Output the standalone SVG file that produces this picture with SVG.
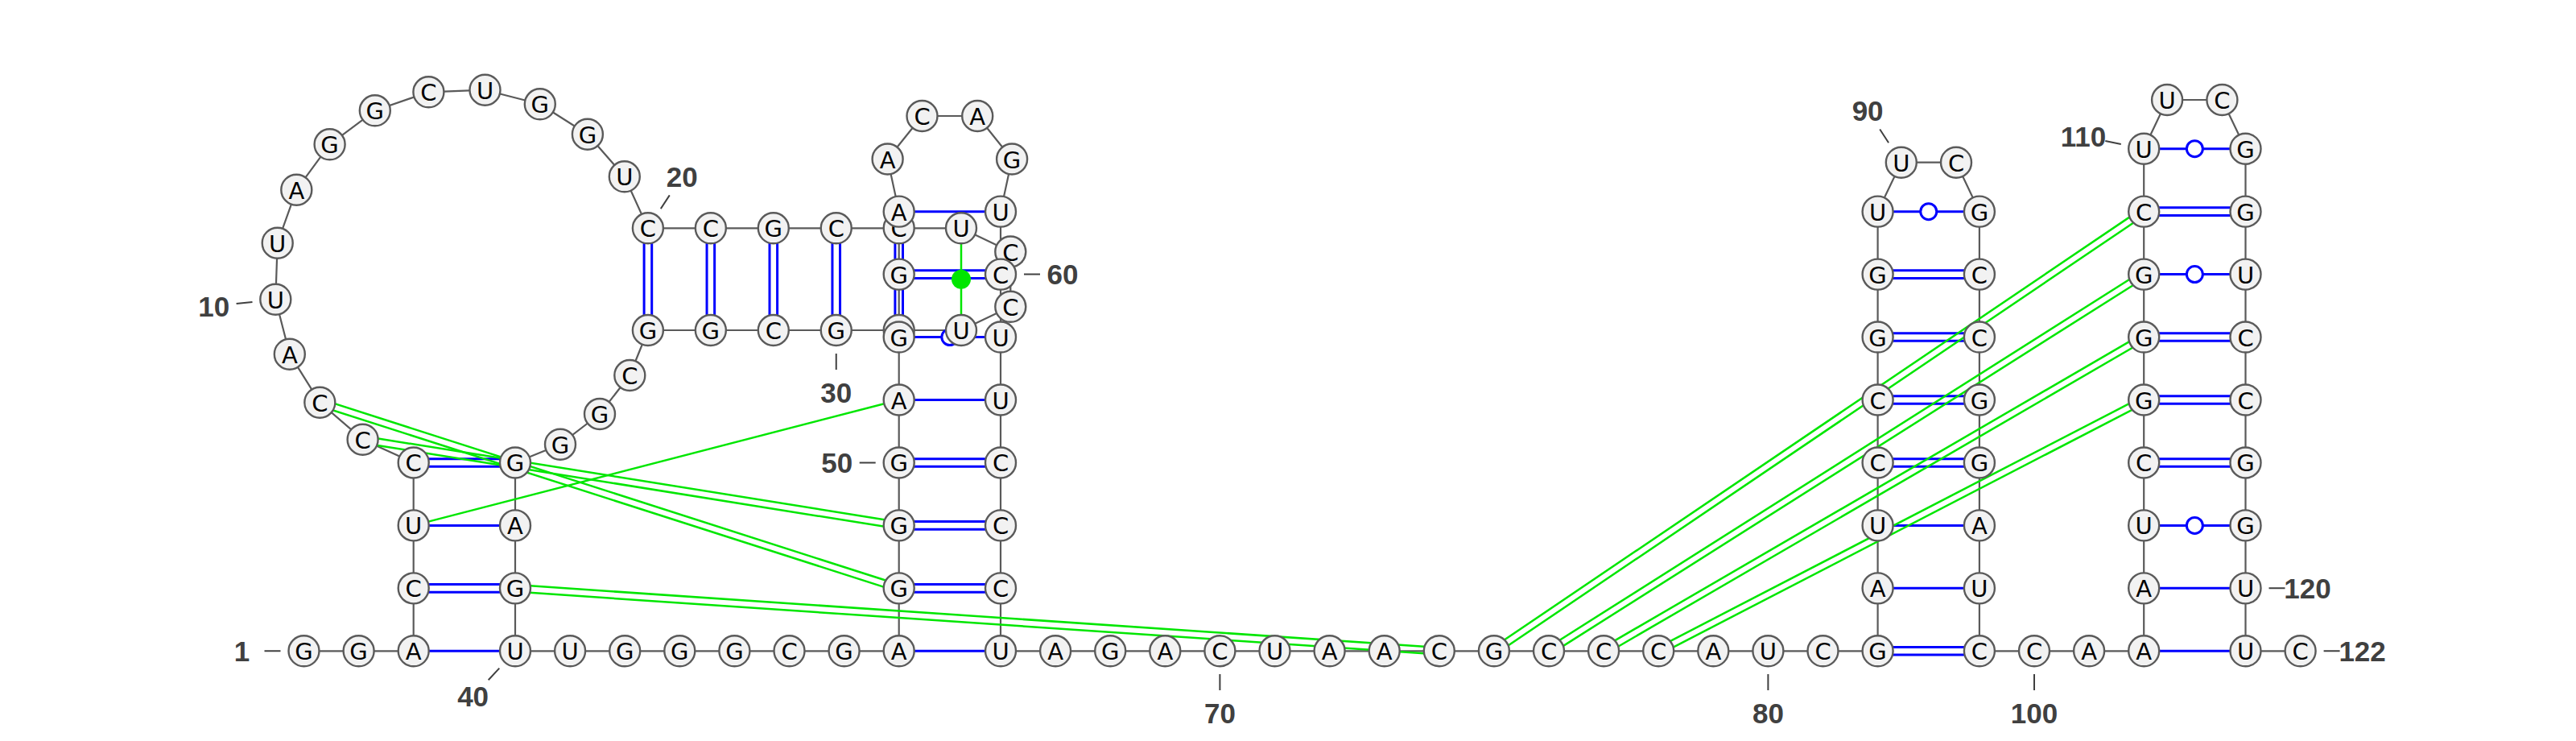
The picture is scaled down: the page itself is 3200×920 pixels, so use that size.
<svg xmlns="http://www.w3.org/2000/svg" width="3200" height="920" viewBox="0 0 3200 920">
<style>
.bb{fill:none;stroke:#5a5a5a;stroke-width:2.2;stroke-linejoin:round}
.bp{stroke:#0000ff;stroke-width:3;fill:none}
.wb{fill:#ffffff;stroke:#0000ff;stroke-width:3}
.gp{stroke:#00e600;stroke-width:2.5;fill:none}
.gd{fill:#00e600}
.nd circle{fill:#f2f2f2;stroke:#5a5a5a;stroke-width:2.4}
.nd text{font-family:"DejaVu Sans",sans-serif;font-size:29px;text-anchor:middle;fill:#000}
.lb{font-family:"Liberation Sans",Arial,sans-serif;font-weight:bold;font-size:35px;fill:#404040;text-anchor:middle}
.tk{stroke:#404040;stroke-width:2}
</style>
<rect width="3200" height="920" fill="#ffffff"/>
<g id="connectors">
<polyline class="bb" points="377.5,808.3 445.6,808.3 513.7,808.3 513.7,730.35 513.7,652.4 513.7,574.45 450.6,545.7 397.3,499.7 359.8,439.7 342.3,371.7 344.7,301.7 368.3,235.7 409.6,179.3 465.8,137.3 532.4,114.3 602.5,111.7 670.8,129.3 729.9,166.7 775.8,219.3 804.9,283.3 882.85,283.3 960.8,283.3 1038.75,283.3 1116.7,283.3 1194,283.3 1255.3,312.5 1255.3,380.8 1194,410 1116.7,410 1038.75,410 960.8,410 882.85,410 804.9,410 782.3,466 745,514 696,551.7 640,574.45 640,652.4 640,730.35 640,808.3 708.1,808.3 776.2,808.3 844.3,808.3 912.4,808.3 980.5,808.3 1048.6,808.3 1116.7,808.3 1116.7,730.35 1116.7,652.4 1116.7,574.45 1116.7,496.5 1116.7,418.55 1116.7,340.6 1116.7,262.65 1102.6,197.5 1145.5,144 1214.2,144 1257.1,197.5 1243,262.65 1243,340.6 1243,418.55 1243,496.5 1243,574.45 1243,652.4 1243,730.35 1243,808.3 1311.1,808.3 1379.2,808.3 1447.3,808.3 1515.4,808.3 1583.5,808.3 1651.6,808.3 1719.7,808.3 1787.8,808.3 1855.9,808.3 1924,808.3 1992.1,808.3 2060.2,808.3 2128.3,808.3 2196.4,808.3 2264.5,808.3 2332.6,808.3 2332.6,730.35 2332.6,652.4 2332.6,574.45 2332.6,496.5 2332.6,418.55 2332.6,340.6 2332.6,262.65 2361.8,201.7 2430,201.7 2458.9,262.65 2458.9,340.6 2458.9,418.55 2458.9,496.5 2458.9,574.45 2458.9,652.4 2458.9,730.35 2458.9,808.3 2527,808.3 2595.1,808.3 2663.2,808.3 2663.2,730.35 2663.2,652.4 2663.2,574.45 2663.2,496.5 2663.2,418.55 2663.2,340.6 2663.2,262.65 2663.2,184.7 2692.1,124 2760.4,124 2789.5,184.7 2789.5,262.65 2789.5,340.6 2789.5,418.55 2789.5,496.5 2789.5,574.45 2789.5,652.4 2789.5,730.35 2789.5,808.3 2857.6,808.3"/>
<g id="pairs">
<!-- left stem -->
<path class="bp" d="M513.7,808.3H640 M513.7,725.55H640 M513.7,735.15H640 M513.7,652.4H640 M513.7,569.65H640 M513.7,579.25H640"/>
<!-- stem 20-33 / 24-29 -->
<path class="bp" d="M800.1,283.3V410 M809.7,283.3V410 M878.05,283.3V410 M887.65,283.3V410 M956,283.3V410 M965.6,283.3V410 M1033.95,283.3V410 M1043.55,283.3V410 M1111.9,283.3V410 M1121.5,283.3V410"/>
<!-- hairpin 47-66 -->
<path class="bp" d="M1116.7,808.3H1243 M1116.7,725.55H1243 M1116.7,735.15H1243 M1116.7,647.6H1243 M1116.7,657.2H1243 M1116.7,569.65H1243 M1116.7,579.25H1243 M1116.7,496.5H1243 M1116.7,418.55H1243 M1116.7,335.8H1243 M1116.7,345.4H1243 M1116.7,262.65H1243"/>
<circle class="wb" cx="1179.85" cy="418.55" r="10"/>
<!-- hairpin 82-99 -->
<path class="bp" d="M2332.6,803.5H2458.9 M2332.6,813.1H2458.9 M2332.6,730.35H2458.9 M2332.6,652.4H2458.9 M2332.6,569.65H2458.9 M2332.6,579.25H2458.9 M2332.6,491.7H2458.9 M2332.6,501.3H2458.9 M2332.6,413.75H2458.9 M2332.6,423.35H2458.9 M2332.6,335.8H2458.9 M2332.6,345.4H2458.9 M2332.6,262.65H2458.9"/>
<circle class="wb" cx="2395.75" cy="262.65" r="10"/>
<!-- hairpin 102-121 -->
<path class="bp" d="M2663.2,808.3H2789.5 M2663.2,730.35H2789.5 M2663.2,652.4H2789.5 M2663.2,569.65H2789.5 M2663.2,579.25H2789.5 M2663.2,491.7H2789.5 M2663.2,501.3H2789.5 M2663.2,413.75H2789.5 M2663.2,423.35H2789.5 M2663.2,340.6H2789.5 M2663.2,257.85H2789.5 M2663.2,267.45H2789.5 M2663.2,184.7H2789.5"/>
<circle class="wb" cx="2726.35" cy="652.4" r="10"/>
<circle class="wb" cx="2726.35" cy="340.6" r="10"/>
<circle class="wb" cx="2726.35" cy="184.7" r="10"/>
</g>
<g id="tertiary">
<path class="gp" d="M449.93,549.9L1116.03,656.6 M451.27,541.5L1117.37,648.2"/>
<path class="gp" d="M396,503.75L1115.4,734.4 M398.6,495.65L1118,726.3"/>
<path class="gp" d="M513.7,652.4L1116.7,496.5"/>
<path class="gp" d="M639.71,734.59L1787.51,812.54 M640.29,726.11L1788.09,804.06"/>
<path class="gp" d="M1858.28,811.82L2665.58,266.17 M1853.52,804.78L2660.82,259.13"/>
<path class="gp" d="M1926.27,811.89L2665.47,344.19 M1921.73,804.71L2660.93,337.01"/>
<path class="gp" d="M1994.23,811.98L2665.33,422.23 M1989.97,804.63L2661.07,414.88"/>
<path class="gp" d="M2062.15,812.08L2665.15,500.28 M2058.25,804.53L2661.25,492.73"/>
<path class="gp" d="M1194,283.3V410"/>
<circle class="gd" cx="1194" cy="346.65" r="12"/>
</g>
<g id="ticks">
<path class="tk" d="M348.5,808.3H328.5 M313.5,374.9L293.6,377.1 M820.8,259.1L831.8,242.4 M1038.75,439V459 M620.3,829.6L606.7,844.2 M1087.7,574.45H1067.7 M1272,340.6H1292 M1515.4,837V857 M2196.4,837V857 M2346.1,177.3L2335.2,160.5 M2527,837V857 M2634.8,178.9L2615.3,174.9 M2818.5,730.35H2838.5 M2886.6,808.3H2906.6"/>
</g>
</g>
<g id="nodes">
<g id="n1" class="nd"><circle cx="377.5" cy="808.3" r="19"/><text x="377.5" y="819.3">G</text></g>
<g id="n2" class="nd"><circle cx="445.6" cy="808.3" r="19"/><text x="445.6" y="819.3">G</text></g>
<g id="n3" class="nd"><circle cx="513.7" cy="808.3" r="19"/><text x="513.7" y="819.3">A</text></g>
<g id="n4" class="nd"><circle cx="513.7" cy="730.35" r="19"/><text x="513.7" y="741.35">C</text></g>
<g id="n5" class="nd"><circle cx="513.7" cy="652.4" r="19"/><text x="513.7" y="663.4">U</text></g>
<g id="n6" class="nd"><circle cx="513.7" cy="574.45" r="19"/><text x="513.7" y="585.45">C</text></g>
<g id="n7" class="nd"><circle cx="450.6" cy="545.7" r="19"/><text x="450.6" y="556.7">C</text></g>
<g id="n8" class="nd"><circle cx="397.3" cy="499.7" r="19"/><text x="397.3" y="510.7">C</text></g>
<g id="n9" class="nd"><circle cx="359.8" cy="439.7" r="19"/><text x="359.8" y="450.7">A</text></g>
<g id="n10" class="nd"><circle cx="342.3" cy="371.7" r="19"/><text x="342.3" y="382.7">U</text></g>
<g id="n11" class="nd"><circle cx="344.7" cy="301.7" r="19"/><text x="344.7" y="312.7">U</text></g>
<g id="n12" class="nd"><circle cx="368.3" cy="235.7" r="19"/><text x="368.3" y="246.7">A</text></g>
<g id="n13" class="nd"><circle cx="409.6" cy="179.3" r="19"/><text x="409.6" y="190.3">G</text></g>
<g id="n14" class="nd"><circle cx="465.8" cy="137.3" r="19"/><text x="465.8" y="148.3">G</text></g>
<g id="n15" class="nd"><circle cx="532.4" cy="114.3" r="19"/><text x="532.4" y="125.3">C</text></g>
<g id="n16" class="nd"><circle cx="602.5" cy="111.7" r="19"/><text x="602.5" y="122.7">U</text></g>
<g id="n17" class="nd"><circle cx="670.8" cy="129.3" r="19"/><text x="670.8" y="140.3">G</text></g>
<g id="n18" class="nd"><circle cx="729.9" cy="166.7" r="19"/><text x="729.9" y="177.7">G</text></g>
<g id="n19" class="nd"><circle cx="775.8" cy="219.3" r="19"/><text x="775.8" y="230.3">U</text></g>
<g id="n20" class="nd"><circle cx="804.9" cy="283.3" r="19"/><text x="804.9" y="294.3">C</text></g>
<g id="n21" class="nd"><circle cx="882.85" cy="283.3" r="19"/><text x="882.85" y="294.3">C</text></g>
<g id="n22" class="nd"><circle cx="960.8" cy="283.3" r="19"/><text x="960.8" y="294.3">G</text></g>
<g id="n23" class="nd"><circle cx="1038.75" cy="283.3" r="19"/><text x="1038.75" y="294.3">C</text></g>
<g id="n24" class="nd"><circle cx="1116.7" cy="283.3" r="19"/><text x="1116.7" y="294.3">C</text></g>
<g id="n25" class="nd"><circle cx="1194" cy="283.3" r="19"/><text x="1194" y="294.3">U</text></g>
<g id="n26" class="nd"><circle cx="1255.3" cy="312.5" r="19"/><text x="1255.3" y="323.5">C</text></g>
<g id="n27" class="nd"><circle cx="1255.3" cy="380.8" r="19"/><text x="1255.3" y="391.8">C</text></g>
<g id="n28" class="nd"><circle cx="1194" cy="410" r="19"/><text x="1194" y="421">U</text></g>
<g id="n29" class="nd"><circle cx="1116.7" cy="410" r="19"/><text x="1116.7" y="421">G</text></g>
<g id="n30" class="nd"><circle cx="1038.75" cy="410" r="19"/><text x="1038.75" y="421">G</text></g>
<g id="n31" class="nd"><circle cx="960.8" cy="410" r="19"/><text x="960.8" y="421">C</text></g>
<g id="n32" class="nd"><circle cx="882.85" cy="410" r="19"/><text x="882.85" y="421">G</text></g>
<g id="n33" class="nd"><circle cx="804.9" cy="410" r="19"/><text x="804.9" y="421">G</text></g>
<g id="n34" class="nd"><circle cx="782.3" cy="466" r="19"/><text x="782.3" y="477">C</text></g>
<g id="n35" class="nd"><circle cx="745" cy="514" r="19"/><text x="745" y="525">G</text></g>
<g id="n36" class="nd"><circle cx="696" cy="551.7" r="19"/><text x="696" y="562.7">G</text></g>
<g id="n37" class="nd"><circle cx="640" cy="574.45" r="19"/><text x="640" y="585.45">G</text></g>
<g id="n38" class="nd"><circle cx="640" cy="652.4" r="19"/><text x="640" y="663.4">A</text></g>
<g id="n39" class="nd"><circle cx="640" cy="730.35" r="19"/><text x="640" y="741.35">G</text></g>
<g id="n40" class="nd"><circle cx="640" cy="808.3" r="19"/><text x="640" y="819.3">U</text></g>
<g id="n41" class="nd"><circle cx="708.1" cy="808.3" r="19"/><text x="708.1" y="819.3">U</text></g>
<g id="n42" class="nd"><circle cx="776.2" cy="808.3" r="19"/><text x="776.2" y="819.3">G</text></g>
<g id="n43" class="nd"><circle cx="844.3" cy="808.3" r="19"/><text x="844.3" y="819.3">G</text></g>
<g id="n44" class="nd"><circle cx="912.4" cy="808.3" r="19"/><text x="912.4" y="819.3">G</text></g>
<g id="n45" class="nd"><circle cx="980.5" cy="808.3" r="19"/><text x="980.5" y="819.3">C</text></g>
<g id="n46" class="nd"><circle cx="1048.6" cy="808.3" r="19"/><text x="1048.6" y="819.3">G</text></g>
<g id="n47" class="nd"><circle cx="1116.7" cy="808.3" r="19"/><text x="1116.7" y="819.3">A</text></g>
<g id="n48" class="nd"><circle cx="1116.7" cy="730.35" r="19"/><text x="1116.7" y="741.35">G</text></g>
<g id="n49" class="nd"><circle cx="1116.7" cy="652.4" r="19"/><text x="1116.7" y="663.4">G</text></g>
<g id="n50" class="nd"><circle cx="1116.7" cy="574.45" r="19"/><text x="1116.7" y="585.45">G</text></g>
<g id="n51" class="nd"><circle cx="1116.7" cy="496.5" r="19"/><text x="1116.7" y="507.5">A</text></g>
<g id="n52" class="nd"><circle cx="1116.7" cy="418.55" r="19"/><text x="1116.7" y="429.55">G</text></g>
<g id="n53" class="nd"><circle cx="1116.7" cy="340.6" r="19"/><text x="1116.7" y="351.6">G</text></g>
<g id="n54" class="nd"><circle cx="1116.7" cy="262.65" r="19"/><text x="1116.7" y="273.65">A</text></g>
<g id="n55" class="nd"><circle cx="1102.6" cy="197.5" r="19"/><text x="1102.6" y="208.5">A</text></g>
<g id="n56" class="nd"><circle cx="1145.5" cy="144" r="19"/><text x="1145.5" y="155">C</text></g>
<g id="n57" class="nd"><circle cx="1214.2" cy="144" r="19"/><text x="1214.2" y="155">A</text></g>
<g id="n58" class="nd"><circle cx="1257.1" cy="197.5" r="19"/><text x="1257.1" y="208.5">G</text></g>
<g id="n59" class="nd"><circle cx="1243" cy="262.65" r="19"/><text x="1243" y="273.65">U</text></g>
<g id="n60" class="nd"><circle cx="1243" cy="340.6" r="19"/><text x="1243" y="351.6">C</text></g>
<g id="n61" class="nd"><circle cx="1243" cy="418.55" r="19"/><text x="1243" y="429.55">U</text></g>
<g id="n62" class="nd"><circle cx="1243" cy="496.5" r="19"/><text x="1243" y="507.5">U</text></g>
<g id="n63" class="nd"><circle cx="1243" cy="574.45" r="19"/><text x="1243" y="585.45">C</text></g>
<g id="n64" class="nd"><circle cx="1243" cy="652.4" r="19"/><text x="1243" y="663.4">C</text></g>
<g id="n65" class="nd"><circle cx="1243" cy="730.35" r="19"/><text x="1243" y="741.35">C</text></g>
<g id="n66" class="nd"><circle cx="1243" cy="808.3" r="19"/><text x="1243" y="819.3">U</text></g>
<g id="n67" class="nd"><circle cx="1311.1" cy="808.3" r="19"/><text x="1311.1" y="819.3">A</text></g>
<g id="n68" class="nd"><circle cx="1379.2" cy="808.3" r="19"/><text x="1379.2" y="819.3">G</text></g>
<g id="n69" class="nd"><circle cx="1447.3" cy="808.3" r="19"/><text x="1447.3" y="819.3">A</text></g>
<g id="n70" class="nd"><circle cx="1515.4" cy="808.3" r="19"/><text x="1515.4" y="819.3">C</text></g>
<g id="n71" class="nd"><circle cx="1583.5" cy="808.3" r="19"/><text x="1583.5" y="819.3">U</text></g>
<g id="n72" class="nd"><circle cx="1651.6" cy="808.3" r="19"/><text x="1651.6" y="819.3">A</text></g>
<g id="n73" class="nd"><circle cx="1719.7" cy="808.3" r="19"/><text x="1719.7" y="819.3">A</text></g>
<g id="n74" class="nd"><circle cx="1787.8" cy="808.3" r="19"/><text x="1787.8" y="819.3">C</text></g>
<g id="n75" class="nd"><circle cx="1855.9" cy="808.3" r="19"/><text x="1855.9" y="819.3">G</text></g>
<g id="n76" class="nd"><circle cx="1924" cy="808.3" r="19"/><text x="1924" y="819.3">C</text></g>
<g id="n77" class="nd"><circle cx="1992.1" cy="808.3" r="19"/><text x="1992.1" y="819.3">C</text></g>
<g id="n78" class="nd"><circle cx="2060.2" cy="808.3" r="19"/><text x="2060.2" y="819.3">C</text></g>
<g id="n79" class="nd"><circle cx="2128.3" cy="808.3" r="19"/><text x="2128.3" y="819.3">A</text></g>
<g id="n80" class="nd"><circle cx="2196.4" cy="808.3" r="19"/><text x="2196.4" y="819.3">U</text></g>
<g id="n81" class="nd"><circle cx="2264.5" cy="808.3" r="19"/><text x="2264.5" y="819.3">C</text></g>
<g id="n82" class="nd"><circle cx="2332.6" cy="808.3" r="19"/><text x="2332.6" y="819.3">G</text></g>
<g id="n83" class="nd"><circle cx="2332.6" cy="730.35" r="19"/><text x="2332.6" y="741.35">A</text></g>
<g id="n84" class="nd"><circle cx="2332.6" cy="652.4" r="19"/><text x="2332.6" y="663.4">U</text></g>
<g id="n85" class="nd"><circle cx="2332.6" cy="574.45" r="19"/><text x="2332.6" y="585.45">C</text></g>
<g id="n86" class="nd"><circle cx="2332.6" cy="496.5" r="19"/><text x="2332.6" y="507.5">C</text></g>
<g id="n87" class="nd"><circle cx="2332.6" cy="418.55" r="19"/><text x="2332.6" y="429.55">G</text></g>
<g id="n88" class="nd"><circle cx="2332.6" cy="340.6" r="19"/><text x="2332.6" y="351.6">G</text></g>
<g id="n89" class="nd"><circle cx="2332.6" cy="262.65" r="19"/><text x="2332.6" y="273.65">U</text></g>
<g id="n90" class="nd"><circle cx="2361.8" cy="201.7" r="19"/><text x="2361.8" y="212.7">U</text></g>
<g id="n91" class="nd"><circle cx="2430" cy="201.7" r="19"/><text x="2430" y="212.7">C</text></g>
<g id="n92" class="nd"><circle cx="2458.9" cy="262.65" r="19"/><text x="2458.9" y="273.65">G</text></g>
<g id="n93" class="nd"><circle cx="2458.9" cy="340.6" r="19"/><text x="2458.9" y="351.6">C</text></g>
<g id="n94" class="nd"><circle cx="2458.9" cy="418.55" r="19"/><text x="2458.9" y="429.55">C</text></g>
<g id="n95" class="nd"><circle cx="2458.9" cy="496.5" r="19"/><text x="2458.9" y="507.5">G</text></g>
<g id="n96" class="nd"><circle cx="2458.9" cy="574.45" r="19"/><text x="2458.9" y="585.45">G</text></g>
<g id="n97" class="nd"><circle cx="2458.9" cy="652.4" r="19"/><text x="2458.9" y="663.4">A</text></g>
<g id="n98" class="nd"><circle cx="2458.9" cy="730.35" r="19"/><text x="2458.9" y="741.35">U</text></g>
<g id="n99" class="nd"><circle cx="2458.9" cy="808.3" r="19"/><text x="2458.9" y="819.3">C</text></g>
<g id="n100" class="nd"><circle cx="2527" cy="808.3" r="19"/><text x="2527" y="819.3">C</text></g>
<g id="n101" class="nd"><circle cx="2595.1" cy="808.3" r="19"/><text x="2595.1" y="819.3">A</text></g>
<g id="n102" class="nd"><circle cx="2663.2" cy="808.3" r="19"/><text x="2663.2" y="819.3">A</text></g>
<g id="n103" class="nd"><circle cx="2663.2" cy="730.35" r="19"/><text x="2663.2" y="741.35">A</text></g>
<g id="n104" class="nd"><circle cx="2663.2" cy="652.4" r="19"/><text x="2663.2" y="663.4">U</text></g>
<g id="n105" class="nd"><circle cx="2663.2" cy="574.45" r="19"/><text x="2663.2" y="585.45">C</text></g>
<g id="n106" class="nd"><circle cx="2663.2" cy="496.5" r="19"/><text x="2663.2" y="507.5">G</text></g>
<g id="n107" class="nd"><circle cx="2663.2" cy="418.55" r="19"/><text x="2663.2" y="429.55">G</text></g>
<g id="n108" class="nd"><circle cx="2663.2" cy="340.6" r="19"/><text x="2663.2" y="351.6">G</text></g>
<g id="n109" class="nd"><circle cx="2663.2" cy="262.65" r="19"/><text x="2663.2" y="273.65">C</text></g>
<g id="n110" class="nd"><circle cx="2663.2" cy="184.7" r="19"/><text x="2663.2" y="195.7">U</text></g>
<g id="n111" class="nd"><circle cx="2692.1" cy="124" r="19"/><text x="2692.1" y="135">U</text></g>
<g id="n112" class="nd"><circle cx="2760.4" cy="124" r="19"/><text x="2760.4" y="135">C</text></g>
<g id="n113" class="nd"><circle cx="2789.5" cy="184.7" r="19"/><text x="2789.5" y="195.7">G</text></g>
<g id="n114" class="nd"><circle cx="2789.5" cy="262.65" r="19"/><text x="2789.5" y="273.65">G</text></g>
<g id="n115" class="nd"><circle cx="2789.5" cy="340.6" r="19"/><text x="2789.5" y="351.6">U</text></g>
<g id="n116" class="nd"><circle cx="2789.5" cy="418.55" r="19"/><text x="2789.5" y="429.55">C</text></g>
<g id="n117" class="nd"><circle cx="2789.5" cy="496.5" r="19"/><text x="2789.5" y="507.5">C</text></g>
<g id="n118" class="nd"><circle cx="2789.5" cy="574.45" r="19"/><text x="2789.5" y="585.45">G</text></g>
<g id="n119" class="nd"><circle cx="2789.5" cy="652.4" r="19"/><text x="2789.5" y="663.4">G</text></g>
<g id="n120" class="nd"><circle cx="2789.5" cy="730.35" r="19"/><text x="2789.5" y="741.35">U</text></g>
<g id="n121" class="nd"><circle cx="2789.5" cy="808.3" r="19"/><text x="2789.5" y="819.3">U</text></g>
<g id="n122" class="nd"><circle cx="2857.6" cy="808.3" r="19"/><text x="2857.6" y="819.3">C</text></g>
</g>
<g id="numbering">
<text class="lb" x="300.5" y="820.8">1</text>
<text class="lb" x="265.8" y="392.7">10</text>
<text class="lb" x="847.2" y="231.5">20</text>
<text class="lb" x="1038.75" y="499.5">30</text>
<text class="lb" x="587.6" y="877.2">40</text>
<text class="lb" x="1039.7" y="586.95">50</text>
<text class="lb" x="1320" y="353.1">60</text>
<text class="lb" x="1515.4" y="897.8">70</text>
<text class="lb" x="2196.4" y="897.8">80</text>
<text class="lb" x="2320.1" y="149.5">90</text>
<text class="lb" x="2527" y="897.8">100</text>
<text class="lb" x="2587.9" y="181.8">110</text>
<text class="lb" x="2866.5" y="742.85">120</text>
<text class="lb" x="2934.6" y="820.8">122</text>
</g>
</svg>
